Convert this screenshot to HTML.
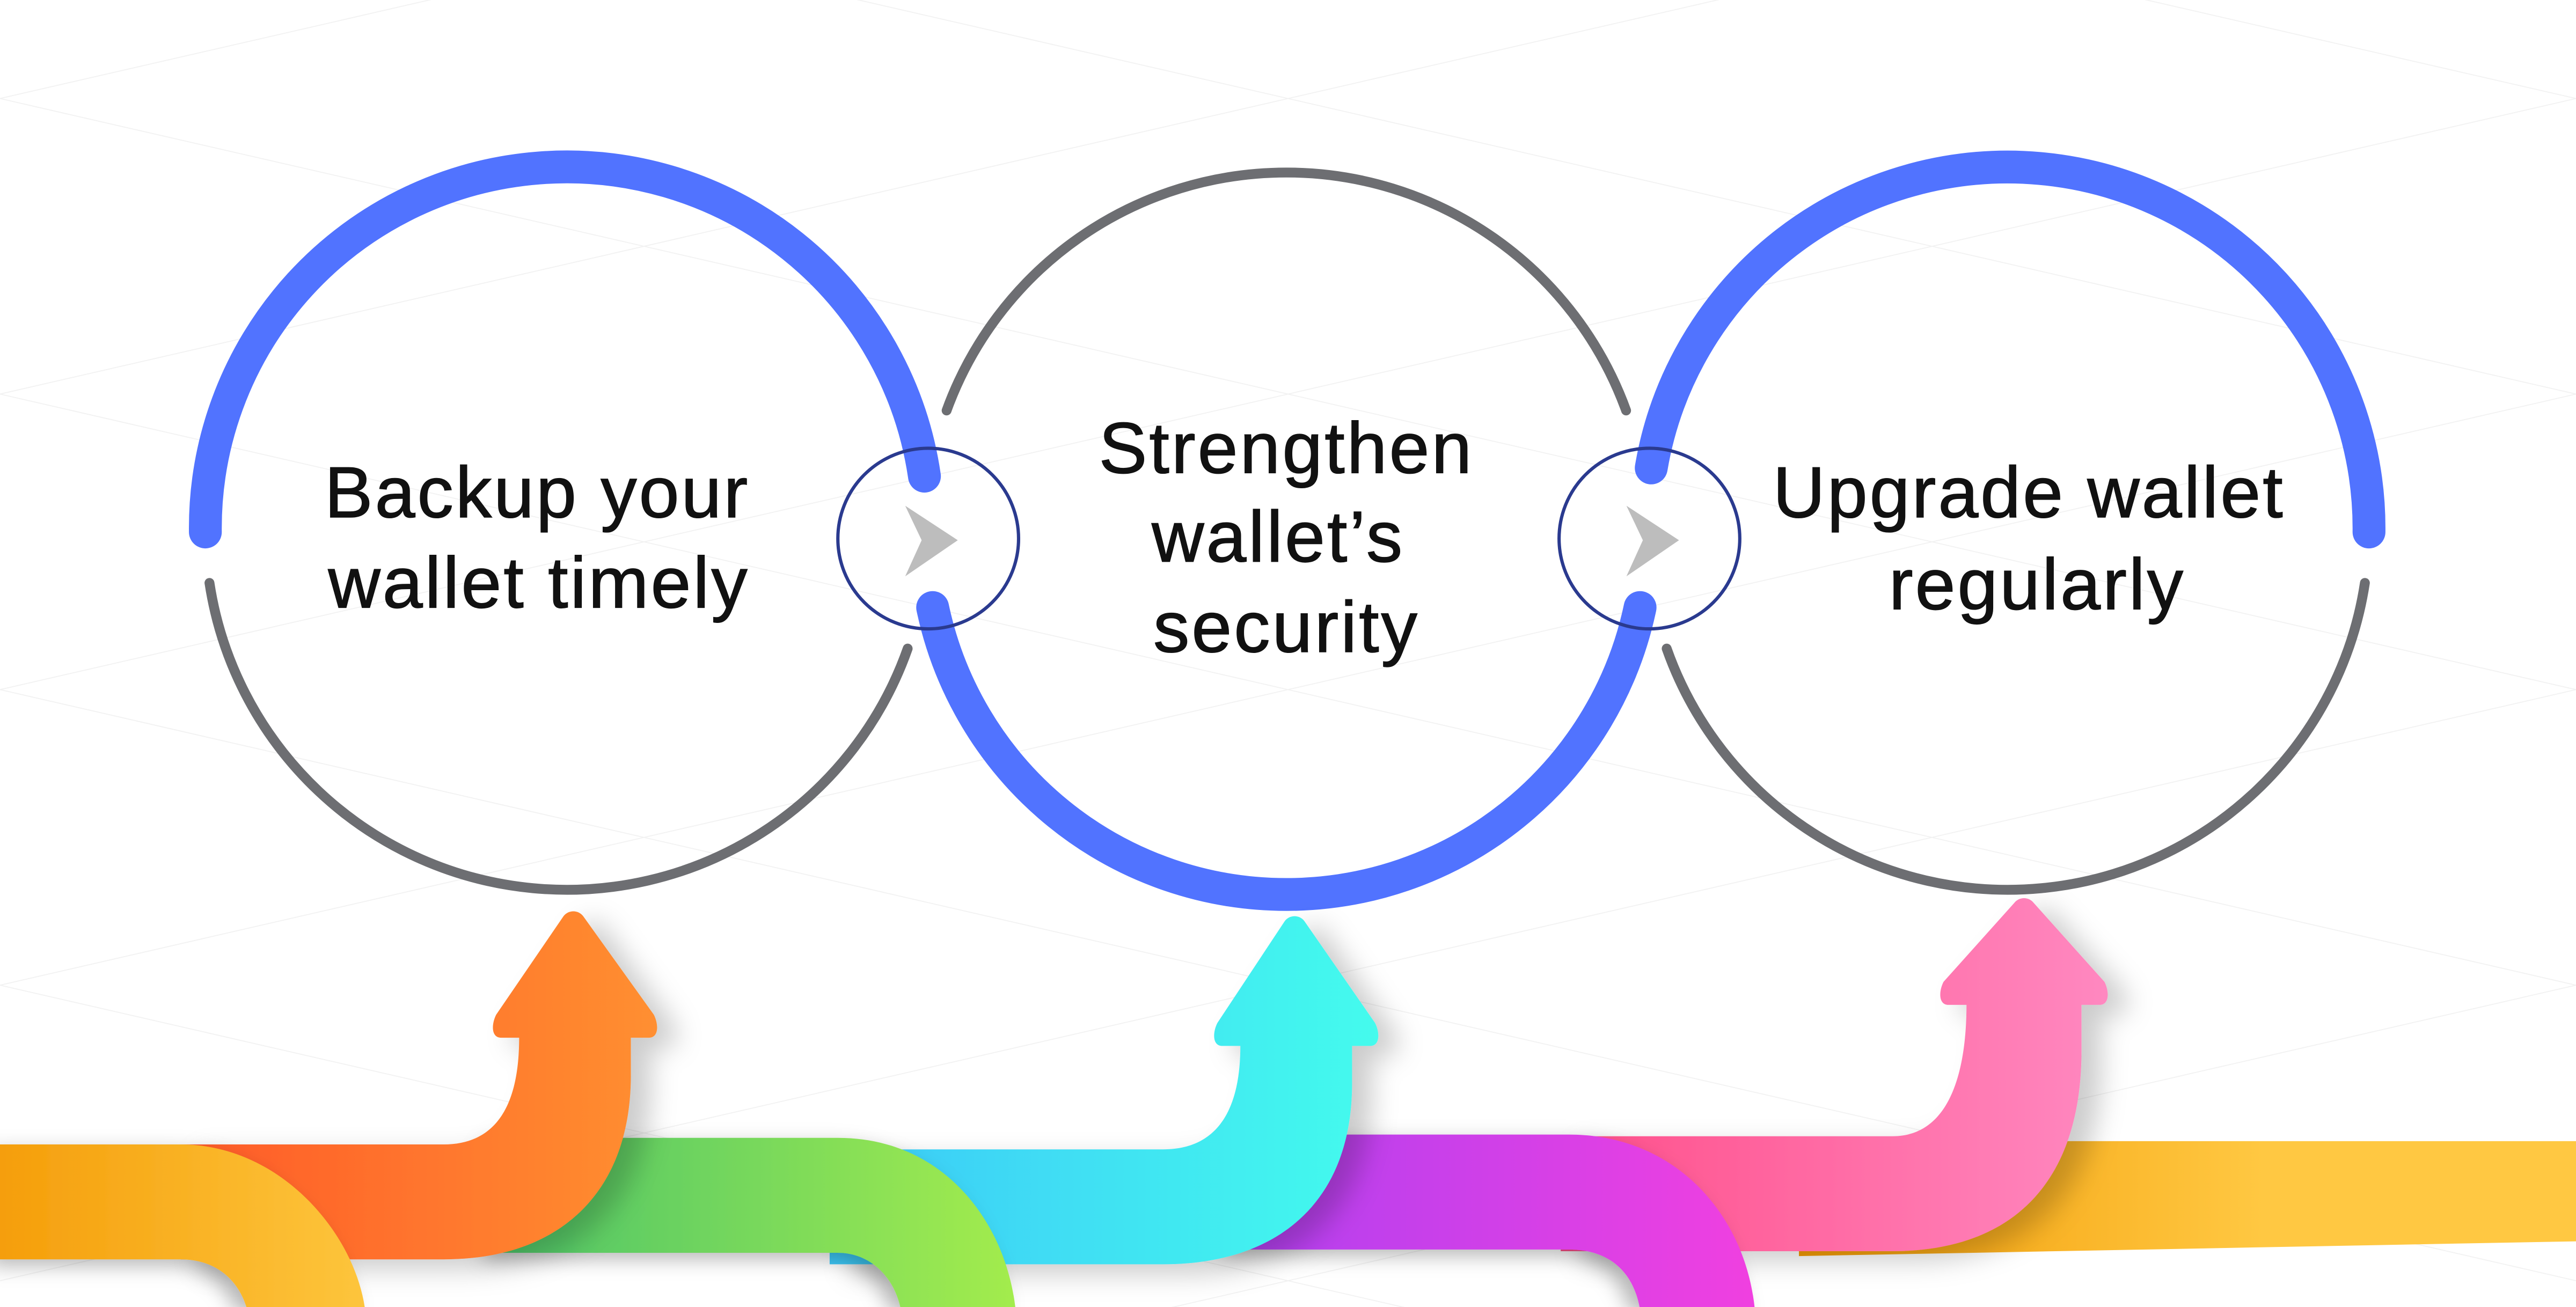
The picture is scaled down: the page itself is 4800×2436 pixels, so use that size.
<!DOCTYPE html>
<html><head><meta charset="utf-8"><style>
html,body{margin:0;padding:0;background:#fff;width:4800px;height:2436px;overflow:hidden;}
svg{display:block;}
text{font-family:"Liberation Sans",Arial,sans-serif;font-size:44px;letter-spacing:1.3px;fill:#111;text-anchor:middle;stroke:#111;stroke-width:0.5px;}
</style></head><body>
<svg width="4800" height="2436" viewBox="0 0 1568 796" preserveAspectRatio="none" xmlns="http://www.w3.org/2000/svg">
<defs>
<linearGradient id="gYL" x1="0" x2="1"><stop offset="0" stop-color="#f59e0b"/><stop offset="1" stop-color="#fdc53c"/></linearGradient>
<linearGradient id="gOr" x1="0" x2="1"><stop offset="0" stop-color="#ff5a2a"/><stop offset="1" stop-color="#ff8f30"/></linearGradient>
<linearGradient id="gGr" x1="0" x2="1"><stop offset="0" stop-color="#4cc46a"/><stop offset="1" stop-color="#a3ec4d"/></linearGradient>
<linearGradient id="gCy" x1="0" x2="1"><stop offset="0" stop-color="#3cc8f8"/><stop offset="1" stop-color="#44fbed"/></linearGradient>
<linearGradient id="gPu" x1="0" x2="1"><stop offset="0" stop-color="#b040f0"/><stop offset="1" stop-color="#f040e0"/></linearGradient>
<linearGradient id="gPk" x1="0" x2="1"><stop offset="0" stop-color="#ff4f8a"/><stop offset="1" stop-color="#ff88c0"/></linearGradient>
<linearGradient id="gYR" x1="0" x2="1"><stop offset="0" stop-color="#f29a05"/><stop offset="0.6" stop-color="#ffc842"/><stop offset="1" stop-color="#ffc842"/></linearGradient>
<filter id="sh" x="-20%" y="-20%" width="150%" height="150%"><feDropShadow dx="-6" dy="4" stdDeviation="6" flood-color="#000" flood-opacity="0.28"/></filter>
<filter id="sh2" x="-20%" y="-20%" width="150%" height="150%"><feDropShadow dx="12" dy="6" stdDeviation="8" flood-color="#000" flood-opacity="0.2"/></filter>
</defs>
<g stroke="#f2f2f2" stroke-width="0.6" fill="none">
<path d="M0,60 L1568,420 M0,240 L1568,600 M0,420 L1568,780 M0,600 L1568,960 M0,-120 L1568,240 M0,-300 L1568,60"/>
<path d="M0,420 L1568,60 M0,600 L1568,240 M0,780 L1568,420 M0,960 L1568,600 M0,240 L1568,-120 M0,60 L1568,-300"/>
</g>
<g fill="none" stroke-linecap="round">
<path d="M125,324 A220,220 0 0 1 562.7,290" stroke="#5173ff" stroke-width="20"/>
<path d="M127.5,355 A220,220 0 0 0 552.5,395" stroke="#6d6e72" stroke-width="6"/>
<path d="M576.2,250 A220,220 0 0 1 989.8,250" stroke="#6d6e72" stroke-width="6"/>
<path d="M567.7,370 A220,220 0 0 0 998.3,370" stroke="#5173ff" stroke-width="20"/>
<path d="M1005.1,285 A220,220 0 0 1 1442,324" stroke="#5173ff" stroke-width="20"/>
<path d="M1439.5,355 A220,220 0 0 1 1014.5,395" stroke="#6d6e72" stroke-width="6"/>
</g>
<circle cx="565" cy="328" r="55" fill="none" stroke="#2a3a8f" stroke-width="2"/>
<circle cx="1004" cy="328" r="55" fill="none" stroke="#2a3a8f" stroke-width="2"/>
<polygon points="551,308 583,329 551,351 561,329" fill="#bdbdbd"/>
<polygon points="990,308 1022,329 990,351 1000,329" fill="#bdbdbd"/>
<text x="327" y="315">Backup your</text>
<text x="328" y="370">wallet timely</text>
<text x="783" y="288">Strengthen</text>
<text x="778" y="342">wallet’s</text>
<text x="783" y="397">security</text>
<text x="1235" y="315">Upgrade wallet</text>
<text x="1240" y="371">regularly</text>
<path d="M1095,695 L1568,695 L1568,756 L1095,765 Z" fill="url(#gYR)"/>
<path filter="url(#sh2)" d="M950,692 L1152,692 C1188,692 1197,650 1197,612 L1186,612 C1180,612 1180,604 1183,598 L1226,550 C1229,546 1235,546 1238,550 L1281,598 C1284,604 1284,612 1278,612 L1267,612 L1267,640 C1267,720 1225,762 1152,762 L950,762 Z" fill="url(#gPk)"/>
<path filter="url(#sh)" d="M750,691 L955,691 C1020,691 1062,740 1068,796 L998,796 C994,775 980,761 955,761 L750,761 Z" fill="url(#gPu)"/>
<path filter="url(#sh2)" d="M505,700 L708,700 C745,700 755,670 755,637 L744,637 C738,637 738,629 741,623 L782,561 C785,557 791,557 794,561 L837,623 C840,629 840,637 834,637 L823,637 L823,660 C823,730 780,770 708,770 L505,770 Z" fill="url(#gCy)"/>
<path filter="url(#sh)" d="M300,693 L510,693 C575,693 612,745 618,796 L548,796 C544,778 530,763 510,763 L300,763 Z" fill="url(#gGr)"/>
<path filter="url(#sh2)" d="M110,697 L270,697 C306,697 316,667 316,632 L305,632 C299,632 299,624 302,618 L343,558 C346,554 352,554 355,558 L398,618 C401,624 401,632 395,632 L384,632 L384,655 C384,725 342,767 270,767 L110,767 Z" fill="url(#gOr)"/>
<path filter="url(#sh)" d="M0,697 L110,697 C170,697 215,750 222,796 L150,796 C145,780 132,767 110,767 L0,767 Z" fill="url(#gYL)"/>
</svg>
</body></html>
